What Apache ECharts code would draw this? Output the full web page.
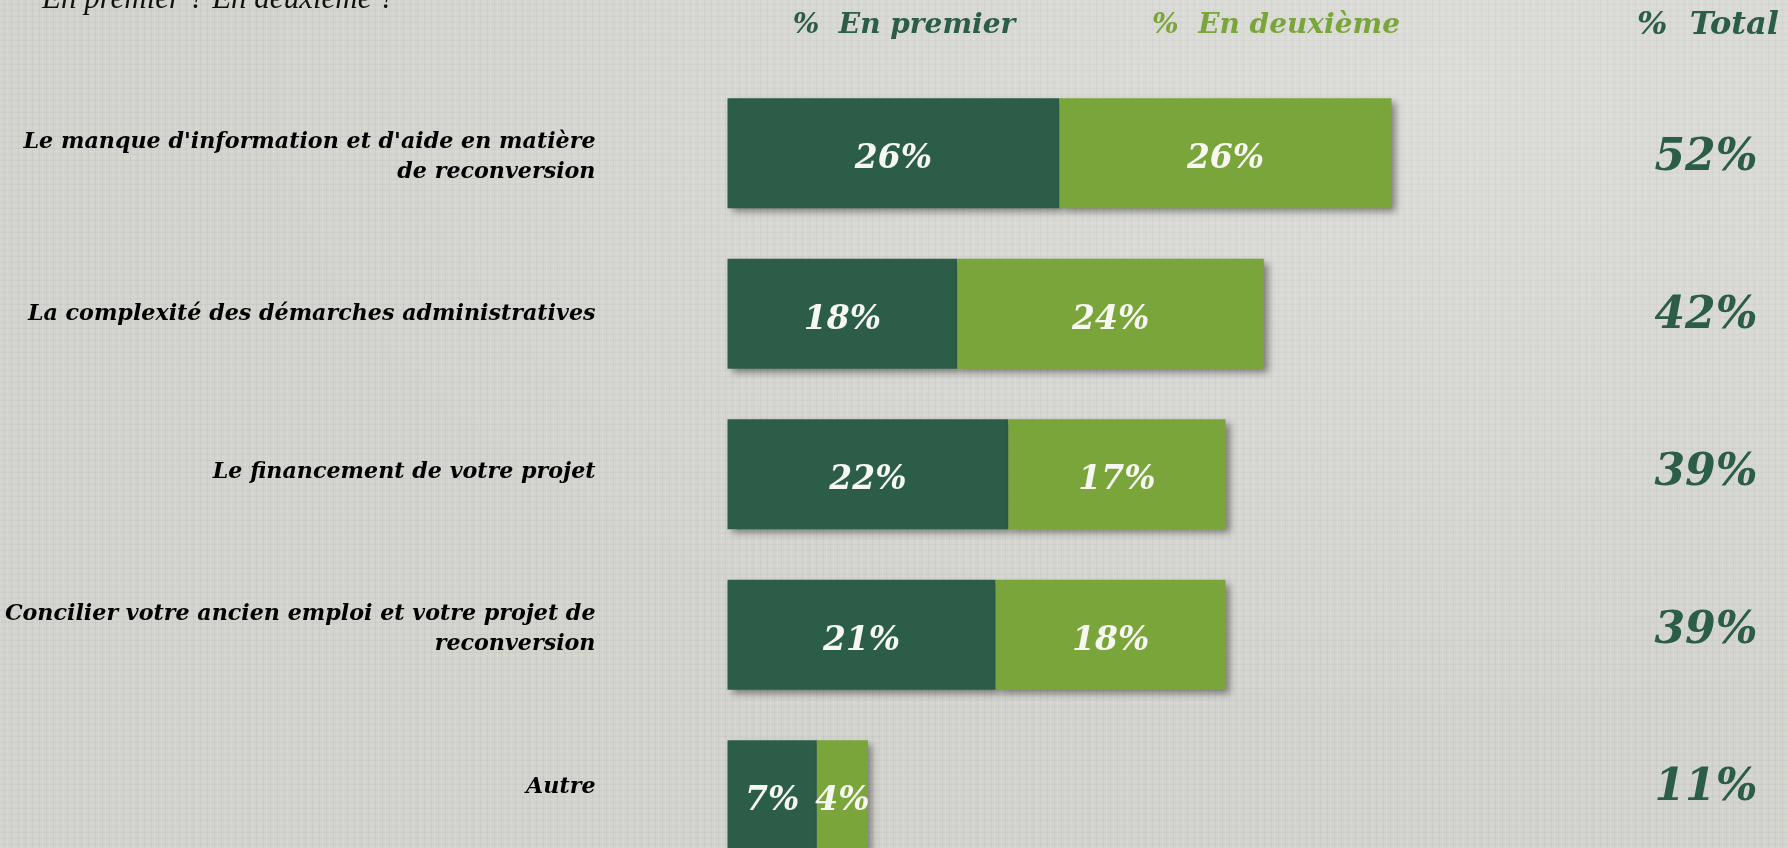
<!DOCTYPE html>
<html lang="fr">
<head>
<meta charset="utf-8">
<title>Freins à la reconversion</title>
<script src="https://cdn.jsdelivr.net/npm/echarts@6/dist/echarts.min.js"></script>
<style>
  html, body { margin: 0; padding: 0; }
  body {
    width: 1788px; height: 848px; overflow: hidden;
    background-color: #d3d4ce;
    background-image:
      radial-gradient(ellipse at 80% 10%, rgba(255,255,255,0.22), rgba(255,255,255,0) 60%),
      repeating-linear-gradient(90deg, rgba(255,255,255,0.07) 0 1px, rgba(0,0,0,0) 1px 4px, rgba(0,0,0,0.035) 4px 5px, rgba(0,0,0,0) 5px 7px),
      repeating-linear-gradient(0deg, rgba(255,255,255,0.06) 0 1px, rgba(0,0,0,0) 1px 3px, rgba(0,0,0,0.03) 3px 4px, rgba(0,0,0,0) 4px 6px);
  }
  #chart { width: 1788px; height: 848px; }
</style>
</head>
<body>
<div id="chart"></div>
<script>
// Obstacles cités, en premier et en deuxième (% des répondants)
const categories = [
  "Le manque d'information et d'aide en matière\nde reconversion",
  "La complexité des démarches administratives",
  "Le financement de votre projet",
  "Concilier votre ancien emploi et votre projet de\nreconversion",
  "Autre"
];
const enPremier  = [26, 18, 22, 21, 7];
const enDeuxieme = [26, 24, 17, 18, 4];
const totals = enPremier.map((v, i) => v + enDeuxieme[i]);

const seriesNames = ['%  En premier', '%  En deuxième', '%  Total'];
const questionText = 'En premier ? En deuxième ?';

const DARK = '#2c5d48';
const LIGHT = '#7aa53a';
const SERIF = '"DejaVu Serif", Georgia, serif';
const TITLE_FONT = '"Liberation Serif", Georgia, serif';

// Bars: the last row runs past the bottom edge of the canvas.
const BAR_GRID = { left: 727.5, top: 73, width: 1021.6, height: 802.5, outerBoundsMode: 'none' };
// Text rows (category names on the left, totals on the right) use a slightly tighter pitch.
const TEXT_GRID = { left: 727.5, top: 78, width: 1021.6, height: 787.5, outerBoundsMode: 'none' };
const TOTAL_COL_X = 1706;

const barShadow = {
  shadowBlur: 7,
  shadowOffsetX: 4,
  shadowOffsetY: 4,
  shadowColor: 'rgba(0,0,0,0.42)'
};

const barLabel = {
  show: true,
  position: 'inside',
  offset: [0, 6.5],
  formatter: p => p.value + '%',
  color: '#f7f7f2',
  fontFamily: SERIF,
  fontStyle: 'italic',
  fontWeight: 'bold',
  fontSize: 33
};

const chart = echarts.init(document.getElementById('chart'), null, { renderer: 'canvas' });

chart.setOption({
  backgroundColor: 'transparent',
  animation: false,
  grid: [BAR_GRID, TEXT_GRID],
  xAxis: [
    { gridIndex: 0, type: 'value', min: 0, max: 80, show: false },
    { gridIndex: 1, type: 'value', min: 0, max: 80, show: false }
  ],
  yAxis: [
    {
      gridIndex: 0,
      type: 'category',
      data: categories,
      inverse: true,
      show: false
    },
    {
      gridIndex: 1,
      type: 'category',
      data: categories,
      inverse: true,
      axisLine: { show: false },
      axisTick: { show: false },
      splitLine: { show: false },
      axisLabel: {
        margin: 132,
        align: 'right',
        color: '#000',
        fontFamily: SERIF,
        fontStyle: 'italic',
        fontWeight: 'bold',
        fontSize: 22.2,
        lineHeight: 30,
        padding: [6, 0, 0, 0]
      }
    }
  ],
  series: [
    {
      name: seriesNames[0],
      type: 'bar',
      stack: 'rang',
      barWidth: 110,
      xAxisIndex: 0, yAxisIndex: 0,
      data: enPremier,
      itemStyle: Object.assign({ color: DARK }, barShadow),
      label: barLabel
    },
    {
      name: seriesNames[1],
      type: 'bar',
      stack: 'rang',
      barWidth: 110,
      xAxisIndex: 0, yAxisIndex: 0,
      data: enDeuxieme,
      itemStyle: Object.assign({ color: LIGHT }, barShadow),
      label: barLabel
    },
    {
      name: seriesNames[2],
      type: 'custom',
      xAxisIndex: 1, yAxisIndex: 1,
      data: totals.map((t, i) => [t, i]),
      encode: { x: 0, y: 1 },
      clip: false,
      renderItem: (params, api) => {
        const y = api.coord([0, api.value(1)])[1];
        return {
          type: 'text',
          x: TOTAL_COL_X,
          y: y + 2,
          style: {
            text: api.value(0) + '%',
            align: 'center',
            verticalAlign: 'middle',
            fill: DARK,
            font: 'italic bold 44px ' + SERIF
          }
        };
      }
    }
  ],
  graphic: [
    {
      type: 'text', left: 42, top: -16,
      style: {
        text: questionText,
        fill: '#111',
        font: 'italic 31px ' + TITLE_FONT
      }
    },
    {
      type: 'text', x: 904, y: 26,
      style: {
        text: seriesNames[0], fill: DARK, align: 'center', verticalAlign: 'middle',
        font: 'italic bold 28px ' + SERIF
      }
    },
    {
      type: 'text', x: 1276, y: 26,
      style: {
        text: seriesNames[1], fill: LIGHT, align: 'center', verticalAlign: 'middle',
        font: 'italic bold 28px ' + SERIF
      }
    },
    {
      type: 'text', x: 1708, y: 26,
      style: {
        text: seriesNames[2], fill: DARK, align: 'center', verticalAlign: 'middle',
        font: 'italic bold 32px ' + SERIF
      }
    }
  ]
});
</script>
</body>
</html>
